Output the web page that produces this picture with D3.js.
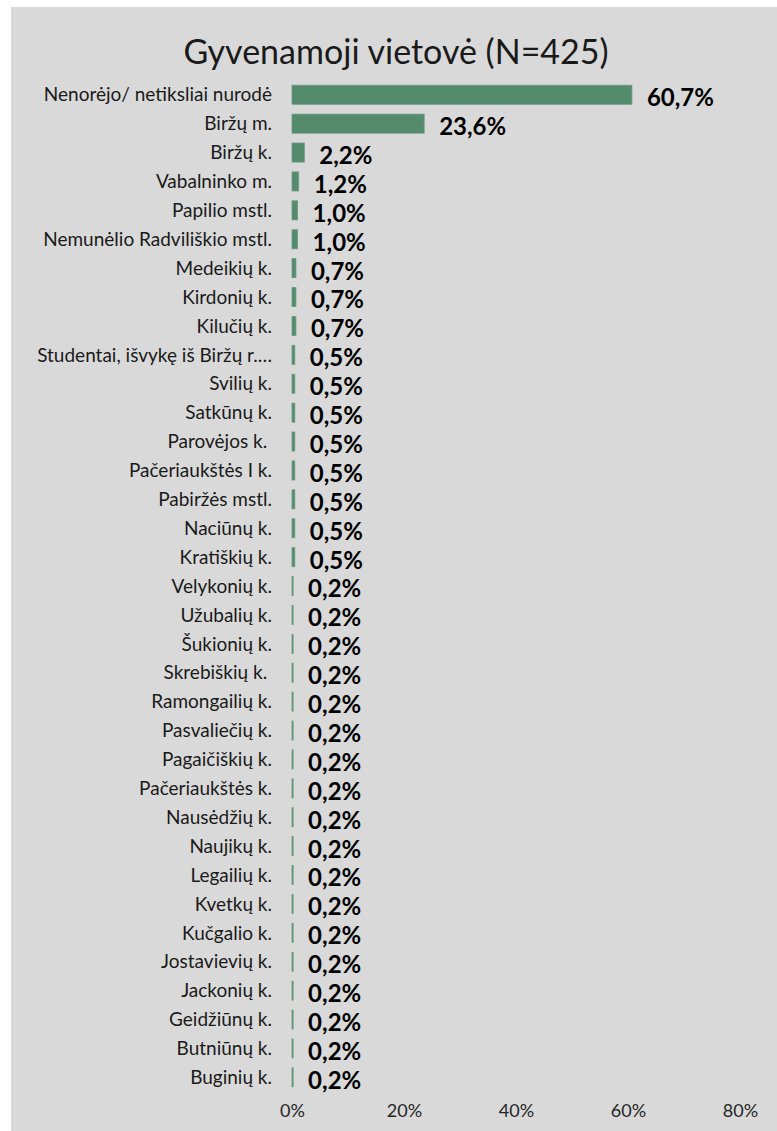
<!DOCTYPE html>
<html lang="lt">
<head>
    <meta charset="UTF-8">
    <title>Gyvenamoji vietovė (N=425)</title>
    <script src="https://d3js.org/d3.v7.min.js"></script>
    <style>
        body {
            margin: 0;
            padding: 0;
            background-color: #fff;
        }

        #chart {
            display: block;
        }

        .cat-label {
            font-family: Lato, "Open Sans", sans-serif;
            font-size: 19px;
            fill: #1a1a1a;
        }

        .value-label {
            font-family: Lato, "Open Sans", sans-serif;
            font-size: 24px;
            font-weight: bold;
            fill: #000;
        }

        .tick text {
            font-family: Lato, "Open Sans", sans-serif;
            font-size: 18px;
            fill: #262626;
        }
    </style>
</head>
<body>
<svg id="chart"></svg>

<script>
    // Data
    const categories = [
        'Nenorėjo/ netiksliai nurodė', 'Biržų m.', 'Biržų k.', 'Vabalninko m.', 'Papilio mstl.',
        'Nemunėlio Radviliškio mstl.', 'Medeikių k.', 'Kirdonių k.', 'Kilučių k.',
        'Studentai, išvykę iš Biržų r.…', 'Svilių k.', 'Satkūnų k.', 'Parovėjos k.\u00a0',
        'Pačeriaukštės I k.', 'Pabiržės mstl.', 'Naciūnų k.', 'Kratiškių k.', 'Velykonių k.',
        'Užubalių k.', 'Šukionių k.', 'Skrebiškių k.\u00a0', 'Ramongailių k.', 'Pasvaliečių k.',
        'Pagaičiškių k.', 'Pačeriaukštės k.', 'Nausėdžių k.', 'Naujikų k.', 'Legailių k.',
        'Kvetkų k.', 'Kučgalio k.', 'Jostavievių k.', 'Jackonių k.', 'Geidžiūnų k.',
        'Butniūnų k.', 'Buginių k.'
    ];
    const values = [
        60.7, 23.6, 2.2, 1.2, 1.0, 1.0, 0.7, 0.7, 0.7,
        0.5, 0.5, 0.5, 0.5, 0.5, 0.5, 0.5, 0.5,
        0.2, 0.2, 0.2, 0.2, 0.2, 0.2, 0.2, 0.2, 0.2,
        0.2, 0.2, 0.2, 0.2, 0.2, 0.2, 0.2, 0.2, 0.2
    ];
    const xTicks = [0, 20, 40, 60, 80];
    const title = 'Gyvenamoji vietovė (N=425)';

    const data = categories.map((c, i) => ({ name: c, value: values[i] }));

    const W = 777, H = 1131;
    const svg = d3.select('#chart')
        .attr('width', W)
        .attr('height', H);

    // grey chart area (white strip left and top like the original)
    svg.append('rect')
        .attr('x', 11)
        .attr('y', 7)
        .attr('width', W - 11)
        .attr('height', H - 7)
        .attr('fill', '#d9d9d9');

    svg.append('text')
        .attr('x', 396)
        .attr('y', 64)
        .attr('text-anchor', 'middle')
        .style('font-family', 'Lato, "Open Sans", sans-serif')
        .style('font-size', '34px')
        .style('fill', '#1a1a1a')
        .text(title);

    const x = d3.scaleLinear().domain([0, 80]).range([292, 740]);
    const y = d3.scaleBand()
        .domain(categories)
        .range([80.3, 1091.8])
        .paddingInner(0.34)
        .paddingOuter(0.17);

    // bars
    svg.append('g')
        .selectAll('rect')
        .data(data)
        .join('rect')
        .attr('x', x(0))
        .attr('y', d => y(d.name))
        .attr('width', d => x(d.value) - x(0))
        .attr('height', y.bandwidth())
        .attr('fill', '#548b6c')
        .attr('stroke', '#6a9c80')
        .attr('stroke-width', 0.8);

    // category labels
    svg.append('g')
        .selectAll('text')
        .data(data)
        .join('text')
        .attr('class', 'cat-label')
        .attr('x', 272)
        .attr('y', d => y(d.name) + y.bandwidth() / 2)
        .attr('dy', '0.35em')
        .attr('text-anchor', 'end')
        .text(d => d.name);

    // value labels
    const fmt = v => d3.format('.1f')(v).replace('.', ',') + '%';
    svg.append('g')
        .selectAll('text')
        .data(data)
        .join('text')
        .attr('class', 'value-label')
        .attr('x', d => x(d.value) + 15)
        .attr('y', d => y(d.name) + y.bandwidth() / 2 + 3)
        .attr('dy', '0.35em')
        .text(d => fmt(d.value));

    // x axis, labels only
    const xAxis = svg.append('g')
        .attr('transform', 'translate(0,1100)')
        .call(d3.axisBottom(x).tickValues(xTicks).tickFormat(d => d + '%').tickSize(0).tickPadding(4));
    xAxis.select('.domain').remove();
</script>
</body>
</html>
